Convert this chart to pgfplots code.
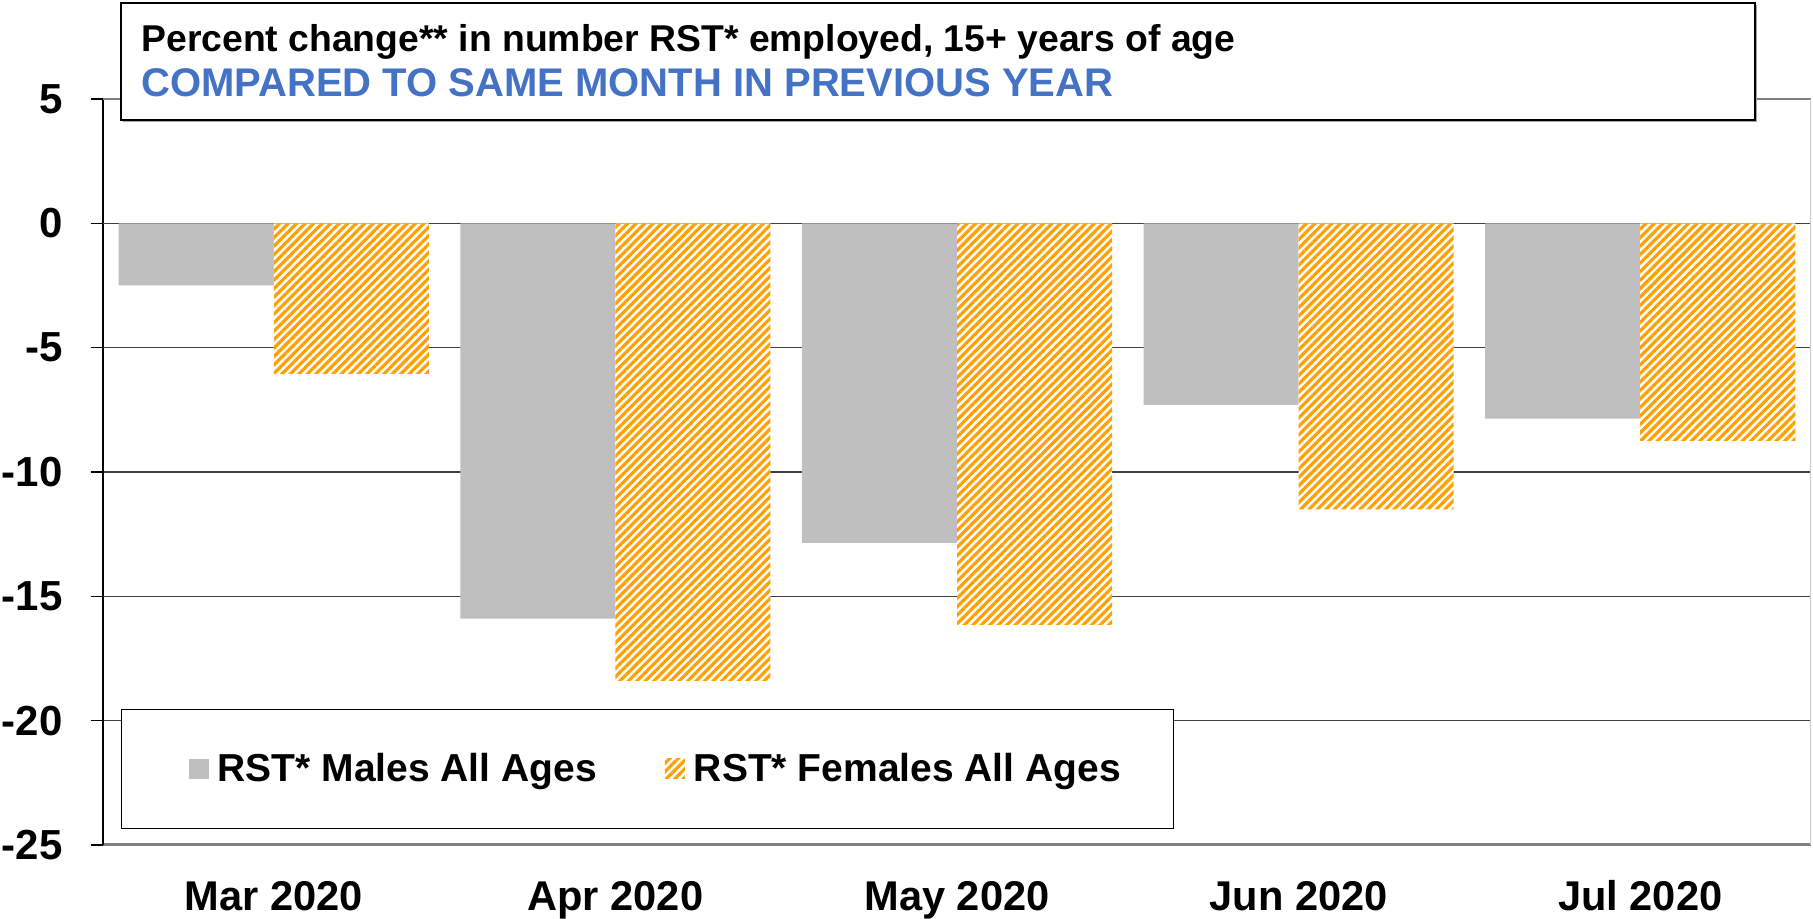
\documentclass[border=0pt]{standalone}
\usepackage{fontspec}
\setmainfont{Liberation Sans}
\usepackage{pgfplots}
\pgfplotsset{compat=1.18}
\usetikzlibrary{patterns.meta}
\definecolor{barGray}{RGB}{191,191,191}
\definecolor{hatchOrange}{RGB}{255,160,0}
\definecolor{titleBlue}{RGB}{68,114,196}
\begin{document}
\begin{tikzpicture}
\begin{axis}[
  at={(0,0)}, anchor=south west,
  scale only axis, width=854pt, height=373pt,
  xmin=-0.5, xmax=4.5, ymin=-25, ymax=5,
  ybar=0pt, bar width=0.454,
  axis x line*=bottom, axis y line*=left,
  axis line style={-},
  x axis line style={draw=gray, line width=1.5pt},
  y axis line style={draw=black, line width=0.75pt},
  xtick={0,1,2,3,4},
  xticklabels={Mar 2020,Apr 2020,May 2020,Jun 2020,Jul 2020},
  xtick style={draw=none},
  xticklabel style={font=\fontsize{20.8}{24}\selectfont\bfseries, anchor=base, yshift=-26.5pt, inner sep=0pt},
  ytick={-25,-20,-15,-10,-5,0,5},
  yticklabels={-25,-20,-15,-10,-5,0,5},
  ytick style={draw=black, line width=0.75pt},
  tick align=outside, major tick length=6pt,
  yticklabel style={font=\fontsize{21}{25}\selectfont\bfseries, anchor=east, inner sep=0pt, xshift=-14pt},
  ymajorgrids,
  major grid style={draw=black!75, line width=0.7pt},
  extra y ticks={0}, extra y tick labels={},
  extra y tick style={grid style={draw=black, line width=0.8pt}, tick style={draw=none}},
  legend columns=2,
  legend cell align=left,
  legend image code/.code={\path (0pt,0pt); \path[#1, draw=none] (7pt,-5pt) rectangle (17pt,5pt);},
  legend style={draw=black, line width=0.6pt, fill=white,
    at={(0.01054,0.02145)}, anchor=south west,
    inner xsep=26.5pt, inner ysep=22pt,
    font=\fontsize{19.5}{23}\selectfont\bfseries,
    nodes={inner sep=0pt},
    /tikz/every odd column/.append style={column sep=4.5pt},
    /tikz/every even column/.append style={column sep=27pt}},
]
\addplot[fill=barGray, draw=none] coordinates {(0,-2.5) (1,-15.9) (2,-12.85) (3,-7.3) (4,-7.85)};
\addlegendentry{RST* Males All Ages}
\addplot[fill=white, draw=none, postaction={pattern={Lines[angle=45,distance=3pt,line width=1.6pt]}, pattern color=hatchOrange}] coordinates {(0,-6.05) (1,-18.4) (2,-16.15) (3,-11.5) (4,-8.75)};
\addlegendentry{RST* Females All Ages}
\draw[draw=gray, line width=1.5pt] (rel axis cs:0,1) -- (rel axis cs:1,1);
\draw[draw=black!20, line width=0.6pt] (rel axis cs:1,0) -- (rel axis cs:1,1);
\end{axis}
\fill[black!35] (10pt,361.5pt) rectangle (827pt,420pt);
\draw[black, line width=0.75pt, fill=white] (9pt,362.5pt) rectangle (826pt,421pt);
\node[anchor=base west, inner sep=0pt, font=\fontsize{18.66}{23}\selectfont\bfseries] at (19pt,396.5pt) {Percent change** in number RST* employed, 15+ years of age};
\node[anchor=base west, inner sep=0pt, text=titleBlue, font=\fontsize{20}{24}\selectfont\bfseries] at (19pt,374pt) {COMPARED TO SAME MONTH IN PREVIOUS YEAR};
\pgfresetboundingbox
\useasboundingbox (-51.5pt,-37pt) rectangle (855pt,422.5pt);
\end{tikzpicture}
\end{document}
